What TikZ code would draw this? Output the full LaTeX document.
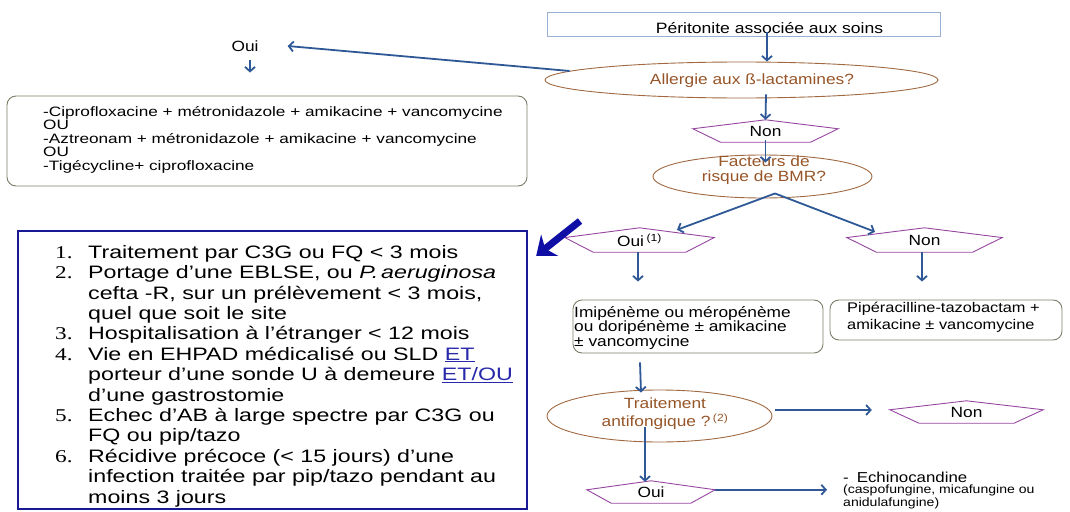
\documentclass[tikz,border=0pt]{standalone}
\usepackage{fontspec}
\setmainfont{Liberation Sans}
\newfontfamily\fR{Liberation Sans}[FakeStretch=1.17]
\newfontfamily\fL{Liberation Sans}[FakeStretch=1.265]
\newfontfamily\fBig{Liberation Sans}[FakeStretch=1.29]
\newfontfamily\fNum{Liberation Serif}[FakeStretch=1.29]
\usetikzlibrary{arrows.meta,calc,shapes.geometric}
\definecolor{conncol}{RGB}{46,88,150}
\definecolor{brn}{RGB}{160,105,65}
\definecolor{brntxt}{RGB}{150,85,40}
\definecolor{purp}{RGB}{150,70,160}
\definecolor{boxgrey}{RGB}{125,125,105}
\definecolor{titleblue}{RGB}{150,175,210}
\definecolor{navy}{RGB}{25,25,150}
\definecolor{bigarrowcol}{RGB}{15,15,165}
\definecolor{linkblue}{RGB}{40,40,170}
\newcommand\pentdraw[1]{\draw[pentline] (#1.north) -- ($(#1.north east)!0.4!(#1.south east)$) -- ($(#1.south)!0.62!(#1.south east)$) -- ($(#1.south)!0.62!(#1.south west)$) -- ($(#1.north west)!0.4!(#1.south west)$) -- cycle;}
\begin{document}
\begin{tikzpicture}[x=1pt,y=-1pt,
  conn/.style={draw=conncol, line width=1.8pt, -{Straight Barb[length=4.5pt,width=10pt]}},
  ellq/.style={ellipse, draw=brn, line width=0.9pt, inner sep=0pt},
  qtext/.style={text=brntxt, font=\fR\fontsize{14.8}{15}\selectfont, align=center, inner sep=0pt},
  pentnode/.style={rectangle, inner sep=0pt, font=\fR\fontsize{14.8}{15}\selectfont},
  pentline/.style={draw=purp, line width=0.9pt},
  rbox/.style={draw=boxgrey, rounded corners=9pt, line width=0.9pt, inner sep=0pt},
  plain/.style={inner sep=0pt, align=left}]
\useasboundingbox (0,0) rectangle (1070,511);

% title
\node[draw=titleblue, line width=0.8pt, minimum width=393pt, minimum height=24pt, inner sep=0pt] (title) at (743.5,24) {};
\node[inner sep=0pt, font=\fR\fontsize{15}{15}\selectfont] (titlet) at (769.5,28) {Péritonite associée aux soins};

% allergy ellipse
\node[ellq, minimum width=393pt, minimum height=36pt] (ell1) at (741.5,80) {};
\node[qtext] (ell1t) at (752,81) {Allergie aux ß-lactamines?};

% Non 1
\node[pentnode, minimum width=145pt, minimum height=22pt] (non1) at (765.5,131) {Non};
\pentdraw{non1}

% BMR ellipse
\node[ellq, minimum width=219pt, minimum height=43pt] (ell2) at (762.5,176.5) {};
\node[qtext] (ell2t) at (764,170) {Facteurs de\\risque de BMR?};

% Oui(1) / Non 2
\node[pentnode, minimum width=149pt, minimum height=24pt] (oui1) at (639.5,240) {\raisebox{-2pt}{Oui\,\textsuperscript{(1)}}};
\pentdraw{oui1}
\node[pentnode, minimum width=155pt, minimum height=24pt] (non2) at (924.5,240) {Non};
\pentdraw{non2}

% treatment boxes
\node[rbox, minimum width=250pt, minimum height=53pt] (imi) at (698,326.5) {};
\node[plain, anchor=north west, font=\fR\fontsize{14.8}{14.5}\selectfont] (imit) at (574,306) {Imipénème ou méropénème\\ou doripénème ± amikacine\\± vancomycine};
\node[rbox, minimum width=232pt, minimum height=40pt] (pip) at (946,320) {};
\node[plain, anchor=north west, font=\fR\fontsize{14}{16.5}\selectfont] (pipt) at (847,302) {Pipéracilline-tazobactam +\\amikacine ± vancomycine};

% antifungal ellipse
\node[ellq, minimum width=225pt, minimum height=52pt] (ell3) at (659.5,416) {};
\node[qtext, font=\fR\fontsize{14.8}{18}\selectfont] (ell3t) at (665,414) {Traitement\\antifongique ?\,\textsuperscript{(2)}};

\node[pentnode, minimum width=153pt, minimum height=22pt] (non3) at (966.5,412) {Non};
\pentdraw{non3}
\node[pentnode, minimum width=128pt, minimum height=22pt] (oui2) at (651,492) {Oui};
\pentdraw{oui2}

\node[inner sep=0pt, anchor=west, font=\fR\fontsize{14.4}{15}\selectfont] (echt) at (843,477) {-\hspace{8pt}Echinocandine};
\node[plain, anchor=north west, font=\fR\fontsize{12}{12.2}\selectfont] (echi) at (843,485)
  {(caspofungine, micafungine ou\\anidulafungine)};

% left side
\node[inner sep=0pt, font=\fR\fontsize{14.8}{15}\selectfont] (ouiA) at (245,46) {Oui};
\node[rbox, minimum width=520pt, minimum height=90pt] (boxL) at (267,141) {};
\node[plain, anchor=north west, font=\fL\fontsize{13.6}{13.5}\selectfont] (boxLt) at (43,106)
  {-Ciprofloxacine + métronidazole + amikacine + vancomycine\\OU\\-Aztreonam + métronidazole + amikacine + vancomycine\\OU\\-Tigécycline+ ciprofloxacine};

% big criteria box
\node[draw=navy, line width=2.4pt, minimum width=509pt, minimum height=278pt, inner sep=0pt] (bigbox) at (272.5,370) {};
\node[plain, anchor=north west, font=\fBig\fontsize{18}{20.4}\selectfont] (bigt) at (55,245)
  {\makebox[33pt][l]{\fNum 1.}Traitement par C3G ou FQ < 3 mois\\
   \makebox[33pt][l]{\fNum 2.}Portage d’une EBLSE, ou \textit{P.\,aeruginosa}\\
   \hspace*{33pt}cefta -R, sur un prélèvement < 3 mois,\\
   \hspace*{33pt}quel que soit le site\\
   \makebox[33pt][l]{\fNum 3.}Hospitalisation à l’étranger < 12 mois\\
   \makebox[33pt][l]{\fNum 4.}Vie en EHPAD médicalisé ou SLD {\color{linkblue}\underline{ET}}\\
   \hspace*{33pt}porteur d’une sonde U à demeure {\color{linkblue}\underline{ET/OU}}\\
   \hspace*{33pt}d’une gastrostomie\\
   \makebox[33pt][l]{\fNum 5.}Echec d’AB à large spectre par C3G ou\\
   \hspace*{33pt}FQ ou pip/tazo\\
   \makebox[33pt][l]{\fNum 6.}Récidive précoce (< 15 jours) d’une\\
   \hspace*{33pt}infection traitée par pip/tazo pendant au\\
   \hspace*{33pt}moins 3 jours};

% connectors
\draw[conn] ([xshift=23.5pt,yshift=4pt]title.south) -- ([xshift=25.5pt]ell1.north);
\draw[conn] ([xshift=24.5pt,yshift=4pt]ell1.south) -- (non1.north);
\draw[conn] ([yshift=2pt]non1.south) -- ([xshift=3pt,yshift=-8pt]ell2.north);
\coordinate (fork) at ([xshift=12.5pt,yshift=5pt]ell2.south);
\draw[conn] (fork) -- ([xshift=37.5pt,yshift=-2pt]oui1.north);
\draw[conn] (fork) -- ([xshift=-49.5pt,yshift=-4pt]non2.north);
\draw[conn] ([xshift=-1.5pt]oui1.south) -- ([xshift=-60pt,yshift=18pt]imi.north);
\draw[conn] ([xshift=-2.5pt]non2.south) -- ([xshift=-24pt,yshift=18pt]pip.north);
\draw[conn] ([xshift=-58pt,yshift=-9pt]imi.south) -- ([xshift=-18.5pt,yshift=-3pt]ell3.north);
\draw[conn] ([xshift=3pt,yshift=6pt]ell3.east) -- ([xshift=-18pt,yshift=2pt]non3.west);
\draw[conn] ([xshift=-14.5pt,yshift=-11pt]ell3.center) -- ([xshift=-6pt,yshift=-1pt]oui2.north);
\coordinate (ouiR) at ($(oui2.north east)!0.4!(oui2.south east)$);
\draw[conn] (ouiR) -- ([xshift=-16pt]echi.west |- ouiR);
\draw[conn] (ell1.177) -- ([xshift=29pt]ouiA.east);
\draw[conn] ([xshift=5pt,yshift=-8pt]ouiA.south) -- ([xshift=-17pt,yshift=23pt]boxL.north);
\coordinate (bigfrom) at (580,221);
\draw[draw=bigarrowcol, line width=7pt, -{Stealth[length=17pt,width=27pt]}] (bigfrom) -- ([xshift=8pt,yshift=-26pt]bigbox.north east);
\end{tikzpicture}
\end{document}
